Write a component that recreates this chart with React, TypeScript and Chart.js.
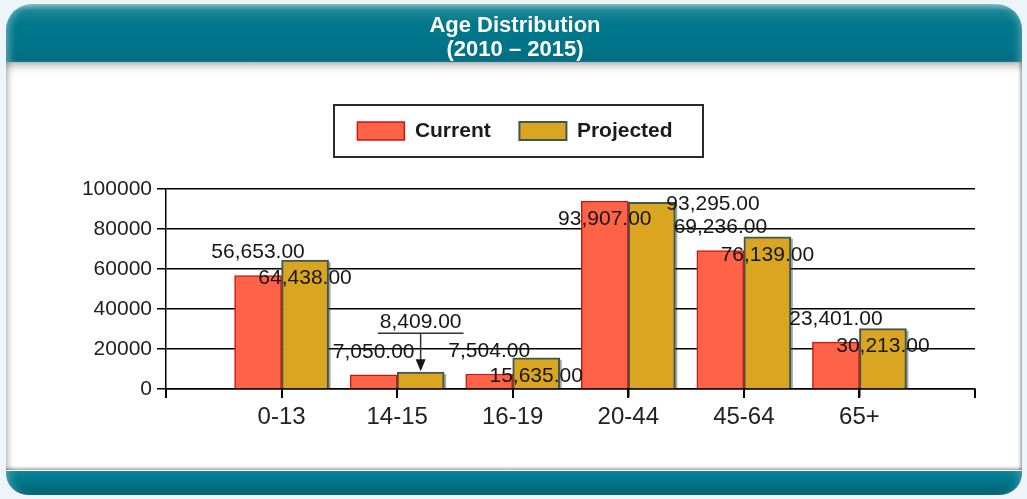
import React, { useEffect, useRef } from 'react';
import { Chart, registerables } from 'chart.js';

Chart.register(...registerables);

const categories = ['0-13', '14-15', '16-19', '20-44', '45-64', '65+'];
const currentValues = [56653, 7050, 7504, 93907, 69236, 23401];
const projectedValues = [64438, 8409, 15635, 93295, 76139, 30213];
const yTickValues = [0, 20000, 40000, 60000, 80000, 100000];
const titleLines = ['Age Distribution', '(2010 – 2015)'];
const seriesNames = ['Current', 'Projected'];
// label placement modes reproducing the original's smart-label layout
const currentLabelModes = ['above', 'above', 'above', 'inside', 'above', 'above'];
const projectedLabelModes = ['inside', 'callout', 'inside', 'right', 'inside', 'inside'];

const FONT = '"Liberation Sans", Arial, Helvetica, sans-serif';

const fmt = (v: number) =>
  v.toLocaleString('en-US', { minimumFractionDigits: 2, maximumFractionDigits: 2 });

const decorPlugin = {
  id: 'decor',
  beforeDatasetsDraw(chart: any) {
    const ctx = chart.ctx;
    ctx.save();
    ctx.fillStyle = 'rgba(30,30,30,0.4)';
    chart.data.datasets.forEach((_ds: any, di: number) => {
      const meta = chart.getDatasetMeta(di);
      meta.data.forEach((bar: any, i: number) => {
        if (chart.data.datasets[di].data[i] == null) return;
        const { x, y, width, base } = bar.getProps(['x', 'y', 'width', 'base'], true);
        ctx.fillRect(x - width / 2 + 2, y + 2, width, base - y - 2);
      });
    });
    ctx.restore();
  },
  afterDatasetsDraw(chart: any) {
    const ctx = chart.ctx;
    ctx.save();
    ctx.font = `21px ${FONT}`;
    ctx.fillStyle = '#161616';
    ctx.textBaseline = 'middle';
    const modes = [currentLabelModes, projectedLabelModes];
    chart.data.datasets.forEach((ds: any, di: number) => {
      const meta = chart.getDatasetMeta(di);
      meta.data.forEach((bar: any, i: number) => {
        const v = ds.data[i];
        if (v == null) return;
        const mode = modes[di][i - 1];
        const { x, y, width } = bar.getProps(['x', 'y', 'width'], true);
        const text = fmt(v);
        if (mode === 'above') {
          ctx.textAlign = 'center';
          ctx.fillText(text, x, y - 23);
        } else if (mode === 'inside') {
          ctx.textAlign = 'center';
          ctx.fillText(text, x, y + 18);
        } else if (mode === 'right') {
          ctx.textAlign = 'left';
          ctx.fillText(text, x + width / 2 - 9, y + 2);
        } else if (mode === 'callout') {
          ctx.textAlign = 'center';
          ctx.fillText(text, x, y - 50);
          const tw = ctx.measureText(text).width;
          ctx.strokeStyle = '#333';
          ctx.lineWidth = 1.5;
          ctx.beginPath();
          ctx.moveTo(x - tw / 2 - 2, y - 39);
          ctx.lineTo(x + tw / 2 + 2, y - 39);
          ctx.moveTo(x, y - 39);
          ctx.lineTo(x, y - 12);
          ctx.stroke();
          ctx.beginPath();
          ctx.moveTo(x - 5, y - 13);
          ctx.lineTo(x + 5, y - 13);
          ctx.lineTo(x, y - 1);
          ctx.closePath();
          ctx.fill();
        }
      });
    });
    ctx.restore();
  },
  afterDraw(chart: any) {
    const ctx = chart.ctx;
    // category tick marks under the x axis, placed by the x scale
    const xs = chart.scales.x;
    const n = chart.data.labels.length;
    const bottom = chart.chartArea.bottom;
    ctx.save();
    ctx.fillStyle = '#000';
    for (let i = 0; i < n; i++) {
      const px = xs.getPixelForValue(i);
      ctx.fillRect(Math.round(px) - 1, bottom, 2, 9);
    }
    ctx.restore();

    const lg = chart.legend;
    if (!lg || !lg.legendHitBoxes || !lg.legendHitBoxes.length) return;
    const hb = lg.legendHitBoxes;
    const first = hb[0];
    const last = hb[hb.length - 1];
    const left = first.left - 23;
    const right = last.left + last.width + 31;
    const top = first.top - 15.5;
    const bottomL = first.top + first.height + 15.5;
    ctx.save();
    ctx.strokeStyle = '#2a2a2a';
    ctx.lineWidth = 2;
    ctx.strokeRect(Math.round(left), Math.round(top), Math.round(right - left), Math.round(bottomL - top));
    ctx.restore();
  },
};

export default function App() {
  const canvasRef = useRef<HTMLCanvasElement | null>(null);

  useEffect(() => {
    if (!canvasRef.current) return;
    const labels = ['', ...categories, ''];
    const chart = new Chart(canvasRef.current, {
      type: 'bar',
      data: {
        labels,
        datasets: [
          {
            label: seriesNames[0],
            data: [null, ...currentValues, null],
            backgroundColor: '#FF6347',
            borderColor: '#C81A14',
            borderWidth: 1.5,
            barThickness: 47,
          },
          {
            label: seriesNames[1],
            data: [null, ...projectedValues, null],
            backgroundColor: '#DAA520',
            borderColor: '#3E5750',
            borderWidth: 2,
            barThickness: 47,
          },
        ],
      },
      options: {
        responsive: false,
        animation: false,
        layout: { padding: { left: 55, right: 52, top: 0, bottom: 0 } },
        plugins: {
          title: {
            display: true,
            text: titleLines,
            color: '#ffffff',
            font: { family: FONT, size: 22, weight: 'bold', lineHeight: '24px' },
            padding: { top: 14, bottom: 29.8 },
          },
          legend: {
            display: true,
            position: 'top',
            weight: 1000,
            labels: {
              color: '#1a1a1a',
              font: { family: FONT, size: 21, weight: 'bold' },
              boxWidth: 47,
              boxHeight: 18,
              padding: 28.7,
            },
          },
          subtitle: {
            display: true,
            text: '',
            position: 'top',
            weight: 10,
            font: { size: 10, lineHeight: 1 },
            padding: { top: 27.5, bottom: 0 },
          },
          tooltip: { enabled: false },
        },
        scales: {
          x: {
            type: 'category',
            offset: false,
            grid: {
              display: true,
              offset: false,
              drawOnChartArea: false,
              drawTicks: true,
              tickLength: 8,
              color: '#000',
              lineWidth: 1.5,
            },
            border: { display: true, color: '#000', width: 1.5 },
            ticks: {
              color: '#222',
              font: { family: FONT, size: 24 },
              padding: 6,
              autoSkip: false,
              maxRotation: 0,
            },
            afterFit: (s: any) => {
              s.height = 110;
            },
          },
          y: {
            min: 0,
            max: 100000,
            afterBuildTicks: (s: any) => {
              s.ticks = yTickValues.map((v) => ({ value: v }));
            },
            ticks: {
              color: '#222',
              font: { family: FONT, size: 21 },
              padding: 5,
              callback: (v: any) => String(v),
            },
            grid: { color: '#000', lineWidth: 1.5, tickLength: 9 },
            border: { display: true, color: '#000', width: 1.5 },
            afterFit: (s: any) => {
              s.width = 166 - 55;
            },
          },
        },
      },
      plugins: [decorPlugin],
    } as any);
    return () => chart.destroy();
  }, []);

  return (
    <div
      style={{
        position: 'fixed',
        left: 0,
        top: 0,
        width: 1027,
        height: 499,
        background: '#edf5fb',
        overflow: 'hidden',
      }}
    >
      <div
        style={{
          position: 'absolute',
          left: 6,
          top: 4,
          width: 1016,
          height: 58,
          borderRadius: '26px 26px 0 0',
          background:
            'linear-gradient(to bottom, #7bb9c5 0%, #1a8596 12%, #00788b 35%, #00748a 75%, #006c7f 100%)',
          boxShadow:
            'inset 8px 0 10px -6px rgba(255,255,255,0.45), inset -8px 0 10px -6px rgba(255,255,255,0.35)',
        }}
      />
      <div
        style={{
          position: 'absolute',
          left: 6,
          top: 62,
          width: 1016,
          height: 408,
          background: '#ffffff',
          boxShadow:
            'inset 0 9px 8px -5px rgba(0,0,0,0.28), inset 7px 0 6px -4px rgba(0,0,0,0.22), inset -3px 0 3px -1px rgba(0,0,0,0.28), inset 0 -3px 3px -1px rgba(0,0,0,0.28)',
        }}
      />
      <div
        style={{
          position: 'absolute',
          left: 6,
          top: 471,
          width: 1016,
          height: 24,
          borderRadius: '0 0 22px 22px',
          background: 'linear-gradient(to bottom, #0b8397 0%, #00768a 45%, #005f71 100%)',
          boxShadow:
            'inset 8px 0 10px -6px rgba(255,255,255,0.35), inset -8px 0 10px -6px rgba(255,255,255,0.25)',
        }}
      />
      <canvas
        ref={canvasRef}
        width={1027}
        height={499}
        style={{ position: 'absolute', left: 0, top: 0, width: 1027, height: 499 }}
      />
    </div>
  );
}
